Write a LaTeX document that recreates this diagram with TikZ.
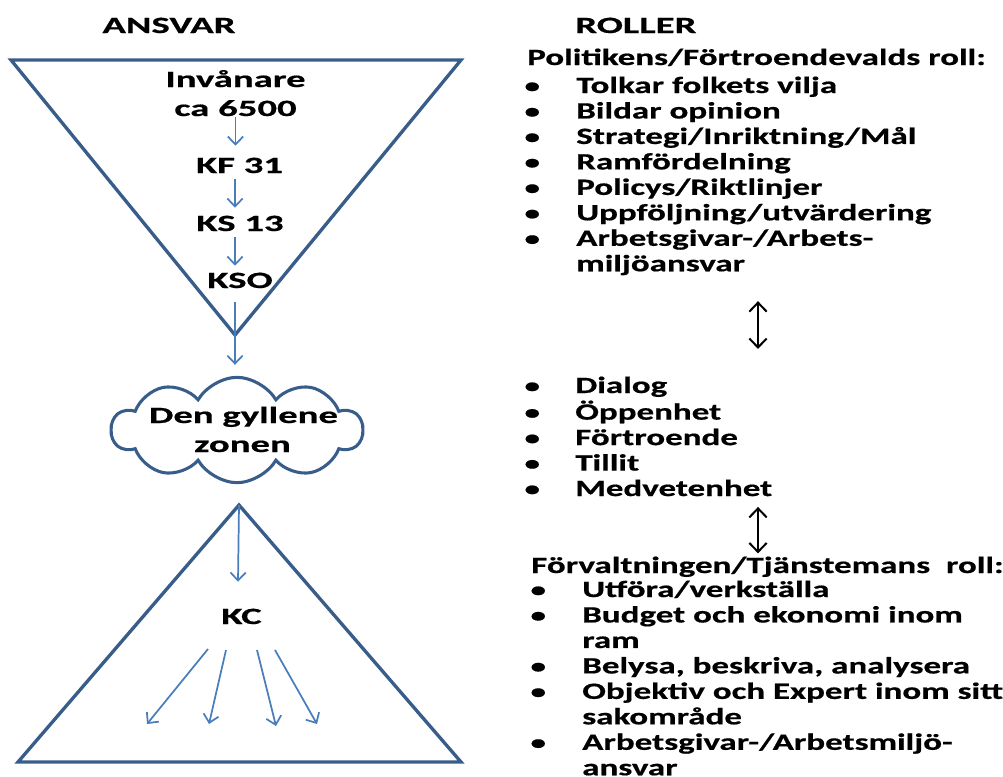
\documentclass[tikz,border=0pt]{standalone}
\usepackage{fontspec}
\usetikzlibrary{arrows.meta,shapes.symbols,calc}
\setmainfont{Carlito}[FakeStretch=1.5,FakeBold=0.6]
\newfontfamily\widefont{Carlito}[FakeStretch=1.66,FakeBold=0.6]
\definecolor{tri}{RGB}{56,93,138}
\definecolor{arr}{RGB}{74,126,187}
\tikzset{
  lbl/.style={font=\widefont\fontsize{17.5}{19}\selectfont\bfseries, inner sep=0pt, anchor=base, text height=11.25pt, text depth=0pt},
  blk/.style={font=\fontsize{17.5}{19.1}\selectfont\bfseries, inner sep=0pt, anchor=base west},
  shape outline/.style={draw=tri, line width=2.5pt, line join=miter},
  bluearrow/.style={draw=arr, line width=1.3pt, -{Straight Barb[length=6pt,width=11.5pt,line width=1.3pt]}},
  dblarrow/.style={draw=black, line width=1.5pt, {Straight Barb[length=6.75pt,width=13pt,line width=1.5pt]}-{Straight Barb[length=6.75pt,width=13pt,line width=1.5pt]}},
}
\newcommand{\bul}{\makebox[7.5pt][c]{\fontsize{15.5}{15.5}\selectfont\raisebox{0.3pt}{\textbullet}}}
\newcommand{\blist}[2]{\begin{tabular}[t]{@{}p{#1}@{}l@{}}#2\end{tabular}}
\begin{document}
\begin{tikzpicture}[x=0.75pt,y=-0.75pt]
\useasboundingbox (0,0) rectangle (1003,776);
% headers
\node[lbl] (ansvar) at (169,33) {ANSVAR};
\node[lbl, anchor=base west] (roller) at (575,33) {ROLLER};
% upper (inverted) triangle
\coordinate (tl) at (11,60);
\coordinate (tr) at (461,60);
\coordinate (tb) at (235,335);
\draw[shape outline] (tl) -- (tr) -- (tb) -- cycle;
\node[lbl] (inv1) at (235.5,87) {Invånare};
\node[lbl] (inv2) at (235.5,116) {ca 6500};
\node[lbl] (kf) at (239.5,173) {KF 31};
\node[lbl] (ks) at (240,231) {KS 13};
\node[lbl] (kso) at (240,288) {KSO};
% cloud
\node[cloud, cloud puffs=10, cloud puff arc=120, cloud ignores aspect, draw=tri, line width=2.3pt,
      minimum width=188pt, minimum height=79pt, inner sep=0pt] (zone) at (237,430) {};
\node[lbl] (zt1) at (243.5,423) {Den gyllene};
\node[lbl] (zt2) at (242.5,452) {zonen};
% lower triangle
\coordinate (ba) at (239,505);
\coordinate (bl) at (18,762);
\coordinate (br) at (461,762);
\draw[shape outline] (ba) -- (br) -- (bl) -- cycle;
\node[lbl] (kc) at (241.5,624) {KC};
% blue arrows
\draw[bluearrow] ($(inv2.south)+(0,1)$) -- ($(kf.north)+(-4,-12)$);
\draw[bluearrow] ($(kf.south)+(-4.5,6)$) -- ($(ks.north)+(-5,-8)$);
\draw[bluearrow] ($(ks.south)+(-5,6)$) -- ($(kso.north)+(-5,-7)$);
\draw[bluearrow] ($(kso.south)+(-5,14)$) -- ($(zone.north)+(-2,-11)$);
\draw[bluearrow] (ba) -- ($(kc.north)+(-3.5,-27)$);
\coordinate (e1) at (147,724);
\coordinate (e2) at (209,724);
\coordinate (e3) at (276,726);
\coordinate (e4) at (317,724);
\draw[bluearrow] ($(kc.base)+(-33.5,25)$) -- (e1);
\draw[bluearrow] ($(kc.base)+(-15.5,26)$) -- (e2);
\draw[bluearrow] ($(kc.base)+(15.5,26)$) -- (e3);
\draw[bluearrow] ($(kc.base)+(33.5,26)$) -- (e4);
% right column
\node[blk] (polh) at (527,65) {Politikens/Förtroendevalds roll:};
\node[blk] (pol) at (527,93) {\blist{36.75pt}{%
\bul & Tolkar folkets vilja\\
\bul & Bildar opinion\\
\bul & Strategi/Inriktning/Mål\\
\bul & Ramfördelning\\
\bul & Policys/Riktlinjer\\
\bul & Uppföljning/utvärdering\\
\bul & Arbetsgivar-/Arbets-\\
 & miljöansvar}};
\node[blk] (dia) at (527,393) {\blist{36pt}{%
\bul & Dialog\\
\bul & Öppenhet\\
\bul & Förtroende\\
\bul & Tillit\\
\bul & Medvetenhet}};
\node[blk] (forh) at (531,573) {Förvaltningen/Tjänstemans~ roll:};
\node[blk] (forv) at (533,597) {\blist{36.75pt}{%
\bul & Utföra/verkställa\\
\bul & Budget och ekonomi inom\\
 & ram\\
\bul & Belysa, beskriva, analysera\\
\bul & Objektiv och Expert inom sitt\\
 & sakområde\\
\bul & Arbetsgivar-/Arbetsmiljö-\\
 & ansvar}};
\coordinate (dc) at (758,0);
\draw[dblarrow] ($(pol.south -| dc)+(0,22)$) -- ($(dia.north -| dc)+(0,-26)$);
\draw[dblarrow] ($(dia.south -| dc)+(0,3)$) -- ($(forh.north -| dc)+(0,-3)$);
\end{tikzpicture}
\end{document}
